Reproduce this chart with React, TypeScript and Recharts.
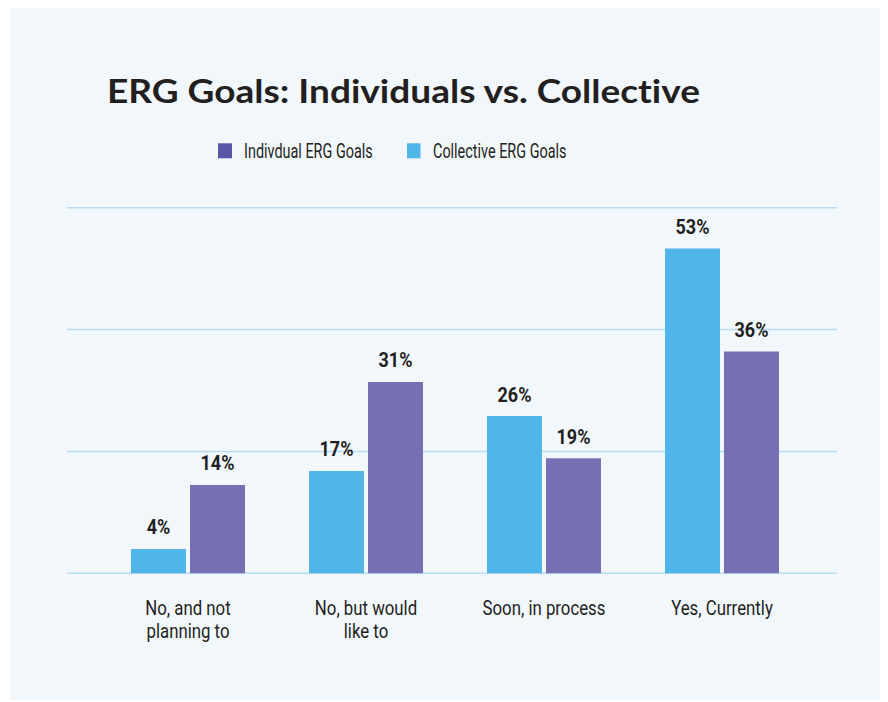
import React from 'react';
import { BarChart, Bar, XAxis, YAxis, CartesianGrid, LabelList } from 'recharts';

const categories = ['No, and not\nplanning to', 'No, but would\nlike to', 'Soon, in process', 'Yes, Currently'];
const collectiveValues = [4.0, 16.8, 25.8, 53.3];
const individualValues = [14.5, 31.4, 18.9, 36.4];
const collectiveLabels = ['4%', '17%', '26%', '53%'];
const individualLabels = ['14%', '31%', '19%', '36%'];
const yTicks = [0, 20, 40, 60];
const titleText = 'ERG Goals: Individuals vs. Collective';
const individualName = 'Indivdual ERG Goals';
const collectiveName = 'Collective ERG Goals';

const BLUE = '#50b6e8';
const PURPLE = '#756fb3';
const PURPLE_LEGEND = '#5b56a5';
const TEXT = '#231f20';
const GRID = '#b9dcf2';
const BG = '#f2f7fc';
const COND = "Roboto, 'Noto Sans', sans-serif";

const data = categories.map((c, i) => ({
  category: c,
  collective: collectiveValues[i],
  individual: individualValues[i],
  collectiveLabel: collectiveLabels[i],
  individualLabel: individualLabels[i],
}));

const NarrowText = (p: { x: number; y: number; k: number; size: number; weight?: number; anchor?: string; children: any }) => (
  <text transform={`translate(${p.x},${p.y}) scale(${p.k},1)`} x={0} y={0}
    textAnchor={(p.anchor || 'start') as any} fontFamily={COND} fontWeight={p.weight || 400}
    fontSize={p.size} fill={TEXT}>
    {p.children}
  </text>
);

const ValueLabel = (props: any) => {
  const { x, y, width, value } = props;
  return (
    <NarrowText x={Number(x) + Number(width) / 2} y={Number(y) - 14.5} k={0.9} size={20} weight={700} anchor="middle">
      {value}
    </NarrowText>
  );
};

const CategoryTick = (props: any) => {
  const { x, y, payload } = props;
  const lines = String(payload.value).split('\n');
  return (
    <g>
      {lines.map((l, i) => (
        <NarrowText key={i} x={Number(x)} y={Number(y) + 42 + i * 23} k={0.8} size={21} anchor="middle">
          {l}
        </NarrowText>
      ))}
    </g>
  );
};

export default function App() {
  return (
    <div style={{ marginLeft: 2, width: 875, height: 692, background: BG, position: 'relative' }}>
      <BarChart width={875} height={692} data={data}
        margin={{ top: 199.7, right: 48, bottom: 96.7, left: 57 }}
        barSize={55} barGap={4}>
        <CartesianGrid vertical={false} stroke={GRID} strokeWidth={1.5} />
        <YAxis hide domain={[0, 60]} ticks={yTicks} />
        <XAxis dataKey="category" axisLine={false} tickLine={false} tickSize={0} tickMargin={0}
          padding={{ left: 32, right: 26 }} interval={0} tick={<CategoryTick />} />
        <Bar dataKey="collective" name={collectiveName} fill={BLUE} isAnimationActive={false}>
          <LabelList dataKey="collectiveLabel" content={<ValueLabel />} />
        </Bar>
        <Bar dataKey="individual" name={individualName} fill={PURPLE} isAnimationActive={false}>
          <LabelList dataKey="individualLabel" content={<ValueLabel />} />
        </Bar>
      </BarChart>
      <svg width={875} height={692} style={{ position: 'absolute', left: 0, top: 0, pointerEvents: 'none' }}>
        <text x={97} y={95} fontFamily="Lato, 'Open Sans', sans-serif" fontWeight={700} fontSize={32}
          fill={TEXT} textLength={593} lengthAdjust="spacingAndGlyphs" style={{ fontVariantLigatures: 'none' }}>
          {titleText}
        </text>
        <rect x={208} y={135.3} width={14} height={15} fill={PURPLE_LEGEND} />
        <NarrowText x={234} y={150} k={0.74} size={19.5}>{individualName}</NarrowText>
        <rect x={397} y={135.3} width={13.5} height={15} fill={BLUE} />
        <NarrowText x={423} y={150} k={0.74} size={19.5}>{collectiveName}</NarrowText>
      </svg>
    </div>
  );
}
